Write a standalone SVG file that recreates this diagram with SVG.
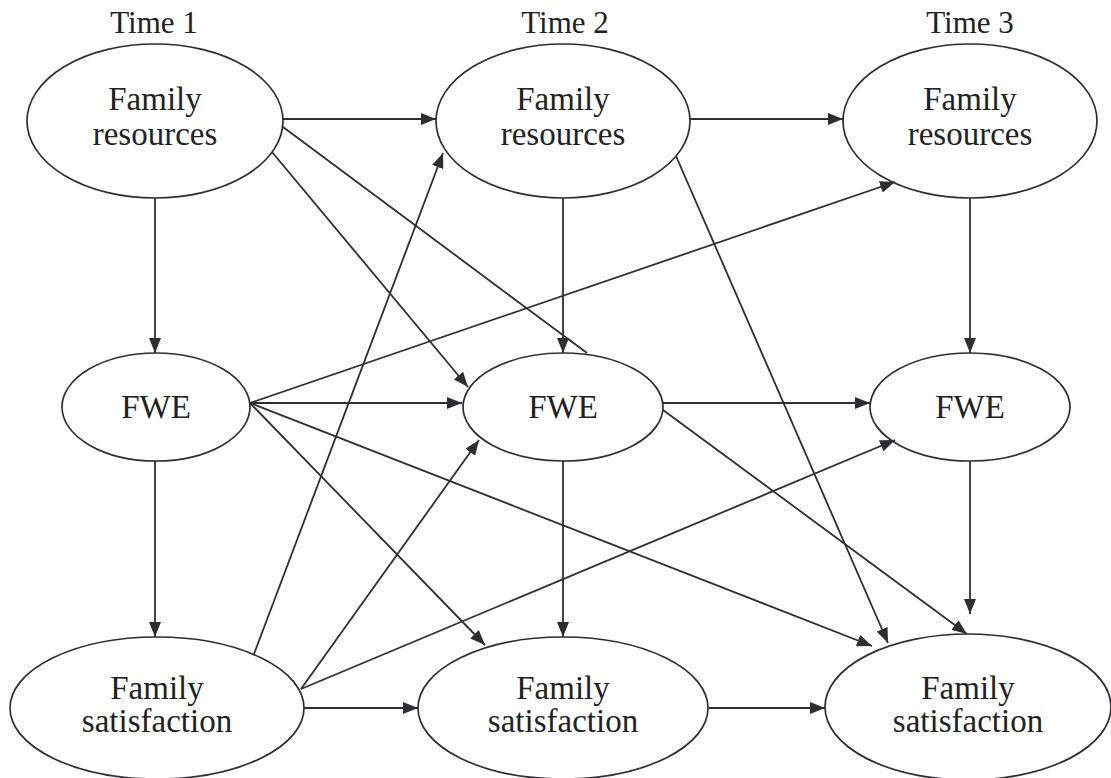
<svg xmlns="http://www.w3.org/2000/svg" width="1111" height="778" viewBox="0 0 1111 778">
<defs>
<marker id="ah" markerUnits="userSpaceOnUse" markerWidth="16" markerHeight="12" refX="15" refY="6" orient="auto">
<path d="M0,0 L15,6 L0,12 z" fill="#2b2f33"/>
</marker>
<style>
.n ellipse{fill:#fff;stroke:#2b2f33;stroke-width:1.7}
text{font-family:"Liberation Serif","Times New Roman",serif;font-size:33px;fill:#222;text-anchor:middle}
.t{font-size:31px}
.c path{fill:none;stroke:#2b2f33;stroke-width:1.8;marker-end:url(#ah)}
</style>
</defs>
<rect width="1111" height="778" fill="#fff"/>
<g id="labels">
<text class="t" x="154" y="33">Time 1</text>
<text class="t" x="565" y="33">Time 2</text>
<text class="t" x="970" y="33">Time 3</text>
</g>
<g id="fr1" class="n"><ellipse cx="155" cy="121" rx="128" ry="77"/><text x="155" y="110">Family</text><text x="155" y="145">resources</text></g>
<g id="fr2" class="n"><ellipse cx="563" cy="121" rx="127" ry="77"/><text x="563" y="110">Family</text><text x="563" y="145">resources</text></g>
<g id="fr3" class="n"><ellipse cx="970" cy="121" rx="127" ry="77"/><text x="970" y="110">Family</text><text x="970" y="145">resources</text></g>
<g id="fwe1" class="n"><ellipse cx="156" cy="407" rx="94" ry="54"/><text x="156" y="418">FWE</text></g>
<g id="fwe2" class="n"><ellipse cx="563" cy="407" rx="100" ry="54"/><text x="563" y="418">FWE</text></g>
<g id="fwe3" class="n"><ellipse cx="970" cy="407" rx="100" ry="54"/><text x="970" y="418">FWE</text></g>
<g id="fs1" class="n"><ellipse cx="157" cy="708" rx="147" ry="71"/><text x="157" y="699">Family</text><text x="157" y="732">satisfaction</text></g>
<g id="fs2" class="n"><ellipse cx="563" cy="708" rx="145" ry="71"/><text x="563" y="699">Family</text><text x="563" y="732">satisfaction</text></g>
<g id="fs3" class="n"><ellipse cx="968" cy="707" rx="143" ry="73"/><text x="968" y="699">Family</text><text x="968" y="732">satisfaction</text></g>
<g id="connectors" class="c">
<path d="M283,119 L436,119"/>
<path d="M690,119 L843,119"/>
<path d="M155,198 L155,353"/>
<path d="M563,198 L563,353"/>
<path d="M970,198 L970,353"/>
<path d="M250,403 L462,403"/>
<path d="M663,403 L870,403"/>
<path d="M155,461 L155,637"/>
<path d="M563,461 L563,637"/>
<path d="M970,461 L970,614"/>
<path d="M304,708 L418,708"/>
<path d="M709,708 L825,708"/>
<path d="M272,152 L468,387"/>
<path d="M283,127 L587,353 M663,410 L967,634"/>
<path d="M676,156 L888,643"/>
<path d="M250,403 L895,182"/>
<path d="M250,403 L872,646"/>
<path d="M250,403 L485,645"/>
<path d="M254,654 L443,153"/>
<path d="M301,689 L479,440"/>
<path d="M301,689 L895,440"/>
</g>
</svg>
